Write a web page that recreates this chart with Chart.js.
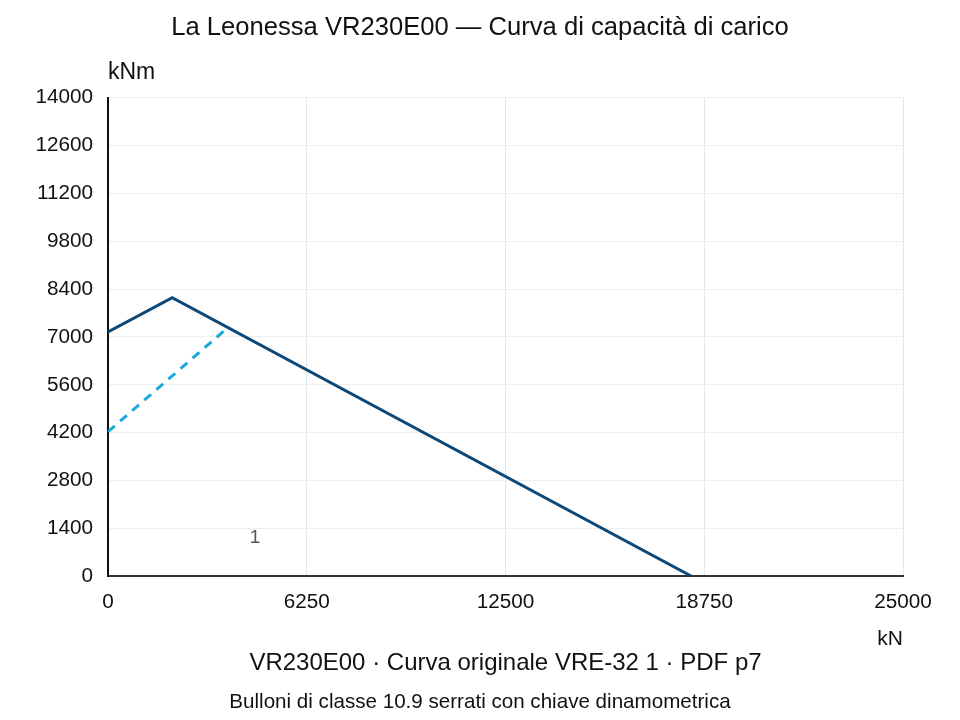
<!DOCTYPE html>
<html>
<head>
<meta charset="utf-8">
<script src="https://cdn.jsdelivr.net/npm/chart.js@4"></script>
<style>
  html, body { margin: 0; padding: 0; background: #fff; }
  #wrap { width: 960px; height: 720px; }
</style>
</head>
<body>
<div id="wrap"><canvas id="chart"></canvas></div>
<script>
// values
const curveX = [0, 2020, 18350];
const curveY = [7150, 8150, 0];
const dashX = [0, 3800];
const dashY = [4230, 7300];
const xTicks = [0, 6250, 12500, 18750, 25000];
const yTicks = [0, 1400, 2800, 4200, 5600, 7000, 8400, 9800, 11200, 12600, 14000];
const markLabel = '1';
const markX = 4620;
const markY = 1140;

const FONT = "'Liberation Sans', Arial, sans-serif";

const pts = (xs, ys) => xs.map((x, i) => ({ x: x, y: ys[i] }));

// extra texts: y unit, the "1" mark and the curve caption under the x axis
const extras = {
  id: 'extras',
  afterDraw(chart) {
    const c = chart.ctx;
    const a = chart.chartArea;
    const xs = chart.scales.x, ys = chart.scales.y;
    c.save();
    c.fillStyle = '#111';
    c.font = '23px ' + FONT;
    c.textAlign = 'left';
    c.textBaseline = 'middle';
    c.fillText('kNm', a.left, a.top - 25);
    c.fillStyle = '#555';
    c.font = '19px ' + FONT;
    c.textAlign = 'center';
    c.fillText(markLabel, xs.getPixelForValue(markX), ys.getPixelForValue(markY));
    c.fillStyle = '#111';
    c.font = '24px ' + FONT;
    c.fillText('VR230E00 · Curva originale VRE-32 1 · PDF p7', (a.left + a.right) / 2, a.bottom + 87);
    c.restore();
  }
};

new Chart(document.getElementById('chart'), {
  type: 'scatter',
  data: {
    datasets: [
      {
        data: pts(curveX, curveY),
        showLine: true,
        borderColor: '#0d4877',
        borderWidth: 3,
        pointRadius: 0,
        fill: false
      },
      {
        data: pts(dashX, dashY),
        showLine: true,
        borderColor: '#1ba6dc',
        borderWidth: 3,
        borderDash: [9, 7],
        pointRadius: 0,
        fill: false
      }
    ]
  },
  options: {
    responsive: true,
    maintainAspectRatio: false,
    animation: false,
    layout: { padding: 0 },
    plugins: {
      legend: { display: false },
      tooltip: { enabled: false },
      title: {
        display: true,
        text: 'La Leonessa VR230E00 — Curva di capacità di carico',
        color: '#111',
        font: { family: FONT, size: 25.6, weight: 'normal' },
        padding: { top: 13, bottom: 54 }
      },
      subtitle: {
        display: true,
        position: 'bottom',
        text: 'Bulloni di classe 10.9 serrati con chiave dinamometrica',
        color: '#111',
        font: { family: FONT, size: 20.6, weight: 'normal' },
        padding: { top: 0, bottom: 5.6 }
      }
    },
    scales: {
      x: {
        type: 'linear',
        min: 0,
        max: 25000,
        afterBuildTicks: s => { s.ticks = xTicks.map(v => ({ value: v })); },
        ticks: { color: '#111', font: { family: FONT, size: 20.7 }, padding: 14, maxRotation: 0, callback: v => String(v) },
        grid: { color: '#dfe8ec', drawTicks: false },
        border: { color: '#333', width: 2 },
        title: {
          display: true,
          text: 'kN',
          align: 'end',
          color: '#111',
          font: { family: FONT, size: 21, lineHeight: 1 },
          padding: { top: 0, bottom: 39.6 }
        }
      },
      y: {
        min: 0,
        max: 14000,
        afterBuildTicks: s => { s.ticks = yTicks.map(v => ({ value: v })); },
        afterFit: s => { s.width = 108; },
        ticks: { color: '#111', font: { family: FONT, size: 20.7 }, padding: 15, callback: v => String(v) },
        grid: { color: '#eeeeee', drawTicks: false },
        border: { color: '#111', width: 2 }
      },
      // empty right-hand axis, only keeps the margin on the right
      yRight: {
        position: 'right',
        min: 0,
        max: 14000,
        afterFit: s => { s.width = 57; },
        ticks: { display: false },
        grid: { display: false, drawOnChartArea: false },
        border: { display: false }
      }
    }
  },
  plugins: [extras]
});
</script>
</body>
</html>
